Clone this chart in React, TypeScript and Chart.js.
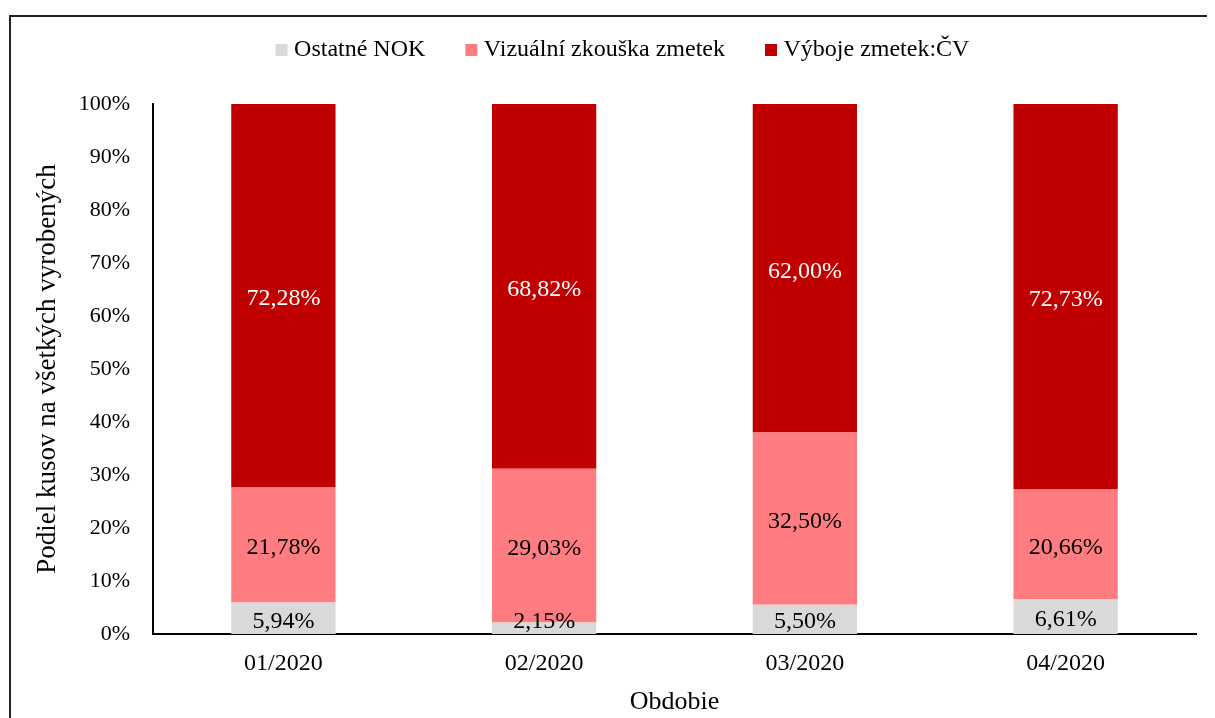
import { useEffect, useRef } from 'react';
import { Chart, registerables } from 'chart.js';

Chart.register(...registerables);

const FONT = "'Liberation Serif', 'Times New Roman', serif";

const categories = ['01/2020', '02/2020', '03/2020', '04/2020'];
const seriesNames = ['Ostatné NOK', 'Vizuální zkouška zmetek', 'Výboje zmetek:ČV'];
const ostatneNok = [5.94, 2.15, 5.5, 6.61];
const vizualniZkouska = [21.78, 29.03, 32.5, 20.66];
const vybojeZmetek = [72.28, 68.82, 62.0, 72.73];
const seriesColors = ['#D9D9D9', '#FF7C80', '#C00000'];
const labelColors = ['#000000', '#000000', '#FFFFFF'];
const yAxisTitle = 'Podiel kusov na všetkých vyrobených';
const xAxisTitle = 'Obdobie';

const fmt = (v: number) => v.toFixed(2).replace('.', ',') + '%';

const barLabels = {
  id: 'barLabels',
  afterDatasetsDraw(chart: any) {
    const { ctx, chartArea } = chart;
    ctx.save();
    ctx.font = `24px ${FONT}`;
    ctx.textAlign = 'center';
    ctx.textBaseline = 'middle';
    chart.data.datasets.forEach((ds: any, di: number) => {
      const meta = chart.getDatasetMeta(di);
      meta.data.forEach((el: any, i: number) => {
        const { x, y, base } = el.getProps(['x', 'y', 'base'], true);
        let cy = (y + base) / 2 + 3;
        cy = Math.min(cy, chartArea.bottom - 12);
        ctx.fillStyle = labelColors[di];
        ctx.fillText(fmt(ds.data[i]), x, cy);
      });
    });
    ctx.restore();
  },
};

export default function App() {
  const ref = useRef<HTMLCanvasElement | null>(null);

  useEffect(() => {
    document.body.style.overflow = 'hidden';
    const canvas = ref.current;
    if (!canvas) return;
    const data = [ostatneNok, vizualniZkouska, vybojeZmetek];
    const chart = new Chart(canvas, {
      type: 'bar',
      data: {
        labels: categories,
        datasets: data.map((d, i) => ({
          label: seriesNames[i],
          data: d,
          backgroundColor: seriesColors[i],
          borderWidth: 0,
          categoryPercentage: 1,
          barPercentage: 0.4,
        })),
      },
      plugins: [barLabels],
      options: {
        responsive: false,
        animation: false,
        layout: { padding: { left: 43.5, right: 19, top: -24.5, bottom: 0 } },
        plugins: {
          legend: {
            position: 'top',
            labels: {
              usePointStyle: true,
              pointStyle: 'rect',
              boxWidth: 1,
              boxHeight: 12,
              padding: 45.5,
              color: '#000000',
              font: { family: FONT, size: 24 },
            },
          },
          title: {
            display: true,
            text: '',
            weight: 500,
            padding: { top: 10, bottom: 10 },
            font: { size: 10 },
          } as any,
          tooltip: { enabled: false },
        },
        scales: {
          x: {
            stacked: true,
            grid: { display: false, drawTicks: false },
            border: { display: true, color: '#000000', width: 2 },
            ticks: {
              color: '#000000',
              padding: 15,
              font: { family: FONT, size: 24 },
            },
            title: {
              display: true,
              text: xAxisTitle,
              color: '#000000',
              padding: { top: 0, bottom: 0.5 },
              font: { family: FONT, size: 26 },
            },
            afterFit: (s: any) => {
              s.height = 84;
            },
          },
          y: {
            stacked: true,
            min: 0,
            max: 100,
            grid: { display: false, drawTicks: false },
            border: { display: true, color: '#000000', width: 2 },
            ticks: {
              stepSize: 10,
              color: '#000000',
              padding: 23,
              font: { family: FONT, size: 22 },
              callback: (v: any) => v + '%',
            },
            title: {
              display: true,
              text: yAxisTitle,
              color: '#000000',
              padding: { top: -22.7, bottom: 0 },
              font: { family: FONT, size: 27 },
            },
            afterFit: (s: any) => {
              s.width = 98.5;
            },
          },
        },
      } as any,
    });
    return () => chart.destroy();
  }, []);

  return (
    <div
      style={{
        marginTop: 7,
        marginLeft: 1,
        borderLeft: '2px solid #222',
        borderTop: '2px solid #222',
        width: 1204,
        height: 701,
      }}
    >
      <canvas ref={ref} width={1204} height={701} style={{ display: 'block', width: 1204, height: 701 }} />
    </div>
  );
}
